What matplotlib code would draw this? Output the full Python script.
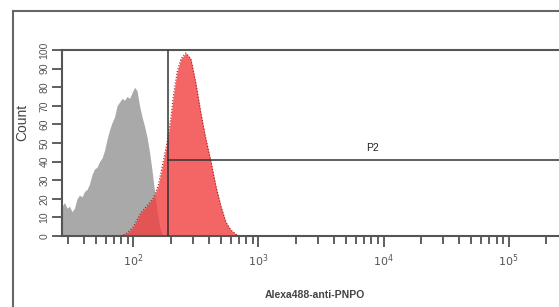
import numpy as np
import matplotlib
matplotlib.use("Agg")
import matplotlib.pyplot as plt
from matplotlib.lines import Line2D

plt.rcParams['font.family'] = ['Liberation Sans', 'DejaVu Sans']

# isotype control (grey), log10 of intensity vs normalised count
ctrl_log = [1.43, 1.45, 1.47, 1.49, 1.51, 1.53, 1.55, 1.57, 1.59, 1.61, 1.63,
            1.65, 1.67, 1.69, 1.71, 1.73, 1.75, 1.77, 1.79, 1.81, 1.83, 1.85,
            1.87, 1.89, 1.91, 1.93, 1.95, 1.97, 1.99, 2.01, 2.03, 2.05, 2.07,
            2.09, 2.11, 2.13, 2.15, 2.17, 2.19, 2.21, 2.23, 2.25]
ctrl_cnt = [16, 18, 15, 16, 13, 15, 20, 22, 21, 24, 25,
            28, 33, 36, 37, 40, 42, 46, 52, 57, 61, 64,
            70, 72, 74, 73, 75, 74, 77, 80, 78, 70, 64,
            59, 53, 45, 35, 24, 13, 5, 1, 0]

# Alexa488-anti-PNPO stained sample (red)
pnpo_log = [1.90, 1.95, 2.00, 2.06, 2.10, 2.16, 2.20, 2.24, 2.27, 2.30, 2.32,
            2.35, 2.38, 2.42, 2.46, 2.50, 2.54, 2.58, 2.62, 2.66, 2.70, 2.74,
            2.78, 2.83, 2.86]
pnpo_cnt = [0, 1.6, 4.8, 12.4, 15.5, 20.4, 27.4, 40.3, 50.5, 63.4, 75.3,
            88.2, 95.2, 98.4, 95.2, 82.2, 66.1, 52.2, 40.3, 26.9, 16.1, 7.5,
            3.2, 0.5, 0]

gate_x = 190        # P2 gate lower bound
gate_y = 41         # height of gate marker
p2_label_pos = (8150, 47.5)

yticks = list(range(0, 101, 10))
xticks = [1e2, 1e3, 1e4, 1e5]
xtick_labels = ['$10^{2}$', '$10^{3}$', '$10^{4}$', '$10^{5}$']

fig = plt.figure(figsize=(5.59, 3.07), dpi=100)
ax = fig.add_axes([62 / 559, 1 - 236 / 307, 499 / 559, 186 / 307])

ctrl_x = 10 ** np.array(ctrl_log)
pnpo_x = 10 ** np.array(pnpo_log)
ax.fill_between(ctrl_x, ctrl_cnt, 0, color='#a9a9a9', lw=0, zorder=1)
ax.fill_between(pnpo_x, pnpo_cnt, 0, color=(0.95, 0.25, 0.25), alpha=0.8,
                lw=0, zorder=2)
ax.plot(pnpo_x, pnpo_cnt, color='#a01818', lw=0.8, ls=':', zorder=3)

ax.set_xscale('log')
ax.set_xlim(10 ** 1.43, 262144)
ax.set_ylim(0, 100)

# gate P2
ax.axvline(gate_x, color='#333333', lw=1.1, zorder=4)
ax.plot([gate_x, 262144], [gate_y, gate_y], color='#333333', lw=1.1, zorder=4)
ax.text(*p2_label_pos, 'P2', fontsize=7.5, color='#222222', ha='center',
        va='center')

ax.set_xticks(xticks)
ax.set_xticklabels(xtick_labels)
ax.tick_params(axis='x', which='major', length=8, width=1.2, color='#444444',
               labelsize=8, labelcolor='#555555', pad=4)
ax.tick_params(axis='x', which='minor', length=6, width=1.2, color='#444444')
ax.set_yticks(yticks)
ax.set_yticklabels([str(v) for v in yticks], rotation=90, va='center')
ax.tick_params(axis='y', length=7, width=1.2, color='#444444', labelsize=7.5,
               labelcolor='#555555', pad=2)

for s in ['left', 'bottom', 'top']:
    ax.spines[s].set_color('#555555')
    ax.spines[s].set_linewidth(1.5)
ax.spines['right'].set_visible(False)

fig.text(22 / 559, 1 - 122 / 307, 'Count', fontsize=10, color='#444444',
         rotation=90, ha='center', va='center')
fig.text(315 / 559, 1 - 295 / 307, 'Alexa488-anti-PNPO', fontsize=7.5,
         fontweight='bold', color='#444444', ha='center', va='center')

# outer frame
fig.add_artist(Line2D([13 / 559, 13 / 559], [0, 1 - 11 / 307],
                      transform=fig.transFigure, color='#666666', lw=1.5))
fig.add_artist(Line2D([13 / 559, 1], [1 - 11 / 307, 1 - 11 / 307],
                      transform=fig.transFigure, color='#666666', lw=1.5))

fig.savefig('out.png', dpi=100)
